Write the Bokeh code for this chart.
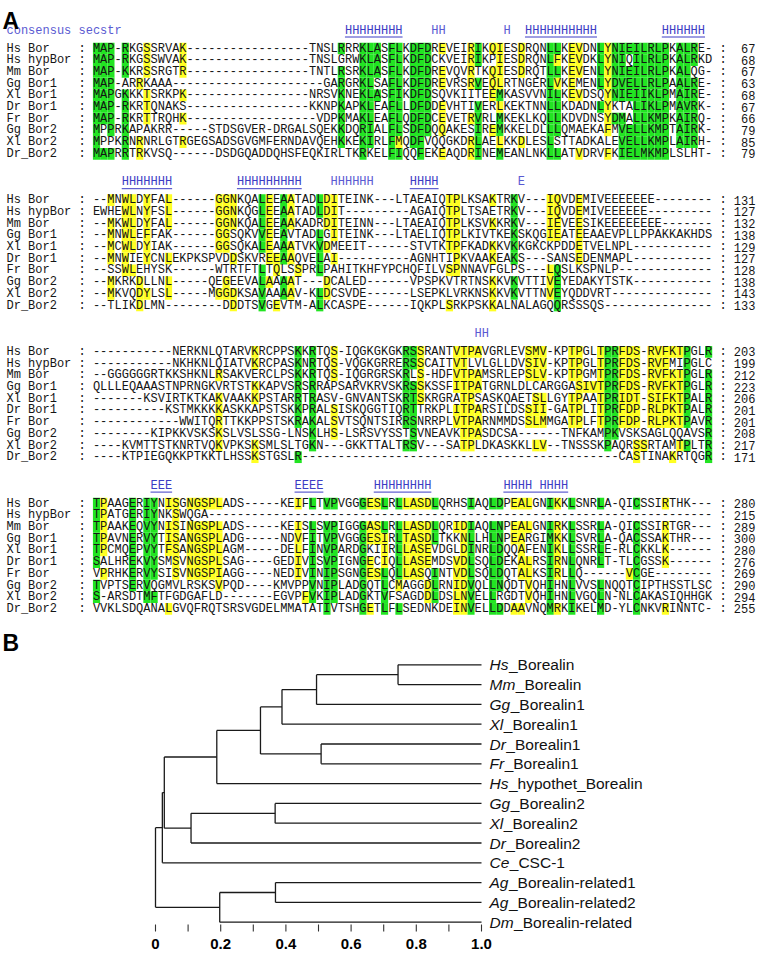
from bokeh.plotting import figure
from bokeh.models import Range1d, ColumnDataSource
from bokeh.layouts import column
from bokeh.embed import file_html
from bokeh.resources import INLINE
from bokeh.core.properties import value

# ---------------- Panel A data: alignment ----------------
NAMES = ["Hs Bor", "Hs hypBor", "Mm Bor", "Gg Bor1", "Xl Bor1", "Dr Bor1",
         "Fr Bor", "Gg Bor2", "Xl Bor2", "Dr_Bor2"]

SEQ_B1 = [
    "MAP-RKGSSRVAK" + "-" * 17 + "TNSLRRRK" + "LASFLKDFDREVEIRIKQIESDRQNLLKEVDNLYNIEILRLPKALRE-",
    "MAP-RKGSSWVAK" + "-" * 17 + "TNSLGRWK" + "LASFLKDFDCKVEIRIKPIESDRQNLFKEVDKLYNIQILRLPKALRKD",
    "MAP-KKRSSRGTR" + "-" * 17 + "TNTLRSRK" + "LASFLKDFDREVQVRTKQIESDRQTLLKEVENLYNIEILRLPKALQG-",
    "MAP-ARRKAAA" + "-" * 21 + "GARGRK" + "LSAFLKDFDREVRSRVEQLRTNGERLVKEMENLYDVELLRLPAALRE-",
    "MAPGKKKTSRKPK" + "-" * 17 + "NRSVKNEK" + "LASFIKDFDSQVKIITEEMKASVVNILKEVDSQYNIEIIKLPMAIRE-",
    "MAP-RKRTQNAKS" + "-" * 17 + "KKNPKAPK" + "LEAFLLDFDDEVHTIVERLKEKTNNLLKDADNLYKTALIKLPMAVRK-",
    "MAP-RKRTTRQHK" + "-" * 18 + "VDPKMAK" + "LEAFLQDFDCEVETRVRLMKEKLKQLLKDVDNSYDMALLKMPKAIRQ-",
    "MPPRKAPAKRR" + "-" * 5 + "STDSGVER-DRGALSQEKKDQR" + "IALFLSDFDQQAKESIREMKKELDLLLQMAEKAFMVELLKMPTAIRK-",
    "MPPKRNRNRLGTRGEGSADSGVGMFERNDAVQEHKKEK" + "IRLFMQDFVQQGKDRLAELKKDLESLSTTADKALEVELLKMPLAIRH-",
    "MAPRRTRKVSQ" + "-" * 6 + "DSDGQADDQHSFEQKIRLTKR" + "KELFIQQFEKEAQDRINEMEANLNKLLATVDRVFKIELMKMPLSLHT-",
]
NUM_B1 = [67, 68, 67, 63, 68, 67, 66, 79, 85, 79]
GREEN_B1 = [
    [0, 1, 2, 4, 34, 37, 38, 39, 41, 42, 44, 45, 46, 53, 63, 64, 70, 72, 73, 74, 75, 76, 77, 78, 79, 81, 82, 83],
    [0, 1, 2, 4, 37, 38, 39, 41, 42, 44, 45, 46, 53, 63, 70, 72, 73, 75, 76, 77, 78, 79, 81, 82, 83],
    [0, 1, 2, 4, 34, 37, 38, 39, 41, 42, 44, 45, 46, 63, 64, 70, 72, 73, 74, 75, 76, 77, 78, 79, 81, 82],
    [0, 1, 2, 34, 37, 38, 41, 42, 44, 45, 46, 53, 63, 70, 72, 73, 74, 75, 76, 77, 78, 79, 81, 82, 83],
    [0, 1, 2, 4, 34, 37, 38, 39, 41, 42, 44, 45, 46, 56, 63, 64, 72, 73, 74, 75, 76, 77, 78, 79, 81, 82, 83],
    [0, 1, 2, 4, 34, 37, 38, 41, 42, 44, 45, 46, 53, 63, 64, 70, 75, 76, 77, 78, 79, 81, 82, 83],
    [0, 1, 2, 4, 34, 37, 38, 41, 42, 44, 45, 46, 53, 56, 63, 64, 72, 73, 75, 76, 77, 78, 79, 81, 82, 83],
    [0, 2, 4, 34, 37, 38, 41, 42, 44, 45, 46, 53, 56, 63, 64, 73, 74, 75, 76, 77, 78, 79, 81, 82, 83],
    [0, 4, 34, 37, 38, 41, 44, 45, 53, 63, 73, 74, 75, 76, 77, 78, 79, 81, 82, 83],
    [0, 1, 2, 4, 37, 41, 42, 45, 53, 56, 63, 64, 73, 74, 75, 76, 77, 78, 79],
]
YELLOW_B1 = [
    [7, 12, 48, 52, 55, 56, 59, 66, 67, 71],
    [7, 12, 52, 56, 59, 64, 66, 67, 71],
    [7, 12, 48, 52, 55, 56, 59, 66, 67, 71],
    [6, 48, 52, 55, 56, 64, 66, 71],
    [7, 12, 55, 66, 67, 71],
    [7, 48, 56, 71],
    [7, 12, 48, 52, 71],
    [48, 55, 71],
    [6, 12, 42, 52, 56, 59],
    [6, 48, 52, 67, 71],
]
SEC_B1 = [(35, "HHHHHHHH", True), (47, "HH", False), (57, "H", False),
          (60, "HHHHHHHHHH", True), (79, "HHHHHH", True)]

SEQ_B2 = [
    "--MNWLDYFAL" + "-" * 6 + "GGNKQALEEAATADLDITEIN" + "K---LTAEAIQTPLKSAKTRKV---IQVDEMIVEEEEEEE" + "-" * 8,
    "EWHEWLNYFSL" + "-" * 6 + "GGNKQGLEEAATADLDIT---" + "-" * 6 + "AGAIQTPLTSAETRKV---IQVDEMIVEEEEEE" + "-" * 9,
    "--MKWLDYFAL" + "-" * 6 + "GGNKQALEEAAKADRDITEIN" + "N---LTAEAIQTPLKSVKKRKV---IEVEESIKEEEEEEEE" + "-" * 7,
    "--MNWLEFFAK" + "-" * 6 + "GGSQKVVEEAVTADLGITEIN" + "K---LTAELIQTPLKIVTKEKSKQGIEATEEAAEVPLLPPAKKAKHDS",
    "--MCWLDYIAK" + "-" * 6 + "GGSQKALEAAATVKVDMEEIT" + "-" * 6 + "STVTKTPFKADKKVKKGKCKPDDETVELNPL" + "-" * 11,
    "--MNWIEYCNLEKPKSPVDDSKVREEAAQVELAI----" + "-" * 6 + "AGNHTIPKVAAKEAKS---SANSEDENMAPL" + "-" * 11,
    "--SSWLEHYSK" + "-" * 6 + "WTRTFTLTQLSSPRLPAHITK" + "HFYPCHQFILVSPNNAVFGLPS---LQSLKSPNLP" + "-" * 13,
    "--MKRKDLLNL" + "-" * 5 + "QEGEEVALAAAAT---DCALED" + "-" * 6 + "VPSPKVTRTNSKKVKVTTIVEYEDAKYTSTK" + "-" * 11,
    "--MKVQDYLSL" + "-" * 5 + "MGGDKSAVAAAAV-KLDCSVDE" + "-" * 6 + "LSEPKLVRKNSKKVKVTTNVEYQDDVRT" + "-" * 14,
    "--TLIKDLMN" + "-" * 8 + "DDDTSVGEVTM-ALKCASPE" + "-" * 6 + "IQKPLSRKPSKKALNALAGQQRSSSQS" + "-" * 15,
]
NUM_B2 = [131, 127, 132, 138, 129, 127, 128, 138, 143, 133]
GREEN_B2 = [
    [23, 26, 31, 58], [23, 26, 31, 58], [23, 26, 58], [23, 26, 31, 58], [23, 26, 31, 58],
    [26, 31, 58], [23, 31, 64], [23, 26, 58, 64], [23, 26, 31, 58, 64], [23, 31, 64],
]
YELLOW_B2 = [
    [2, 4, 5, 7, 10, 17, 18, 19, 24, 27, 32, 33, 49, 50, 55, 63, 64, 67],
    [4, 5, 7, 10, 17, 18, 19, 24, 27, 32, 33, 49, 50, 63, 64, 67],
    [2, 4, 5, 7, 10, 17, 18, 19, 24, 27, 32, 33, 49, 50, 55, 63, 64, 67],
    [2, 4, 5, 7, 17, 18, 24, 33, 49, 50, 63, 64, 67],
    [2, 4, 5, 7, 17, 18, 24, 27, 32, 49, 50, 55, 67],
    [2, 4, 7, 10, 19, 24, 25, 27, 33, 50, 55, 67],
    [4, 5, 25, 28, 49, 50, 63],
    [2, 6, 10, 18, 24, 27, 32, 55, 63],
    [2, 6, 7, 10, 17, 18, 19, 27, 32, 55, 63],
    [6, 19, 25, 49, 55],
]
SEC_B2 = [(4, "HHHHHHH", True), (20, "HHHHHHHHH", True), (33, "HHHHHH", False),
          (44, "HHHH", True), (59, "E", False)]

SEQ_B3 = [
    "-" * 11 + "NERKNLQTARVKRCPPSKKRTQS-IQG" + "KGKGKRSSRANTVTPAVGRLEVSMV-KPTPGLTPRFDS-RVFKTPGLR",
    "-" * 11 + "NKHKNLQIATVKRCPASKNRTQS-VQG" + "KGRRERSSCAITVTLVLGLLDVSIV-KPTPGLTPRFDS-RVFMIPGLC",
    "--GGGGGGRTKKSHKNLRSAKVERCLPSKKRTQS-IQG" + "RGRSKRLS-HDFVTPAMSRLEPSLV-KPTPGMTPRFDS-RVFKTPGLR",
    "QLLLEQAAASTNPRNGKVRTSTKKAPVSRSRRAPSARV" + "KRVSKRSSKSSFITPATGRNLDLCARGGASIVTPRFDS-RVFKTPGLR",
    "-" * 7 + "KSVIRTKTKAKVAAKKPSTARRTRASV-GNV" + "ANTSKRTSKRGRATPSASKQAETSLLGYTPAATPRIDT-SIFKTPALR",
    "-" * 10 + "KSTMKKKKASKKAPSTSKKPRALSISKQ" + "GGTIQRTTRKPLITPARSILDSSII-GATPLITPRFDP-RLPKTPALR",
    "-" * 12 + "WWITQRTTKKPPSTSKRAKALSVTSQ" + "NTSIRRSNRRPLVTPARNMMDSSLMMGATPLFTPRFDP-RLPKTPAVR",
    "-" * 8 + "KIPKKVSKSKSLVSLSSG-LNSKLHS-LSR" + "SVYSSTSVNEAVKTPASDCSA------TNFKAMPKVSKSAGLQQAVSR",
    "----KVMTTSTKNRTVQKVPKSKSMLSLTGKN---GKK" + "TTALTRSV---SATPLDKASKKLLV--TNSSSKPAQRSSRTAMTPLTR",
    "----KTPIEGQKKPTKKTLHSSKSTGSLR" + "-" * 9 + "-" * 35 + "CASTINAKRTQGR",
]
NUM_B3 = [203, 199, 212, 223, 206, 201, 201, 208, 217, 171]
GREEN_B3 = [
    [28, 30, 43, 44, 71, 72, 82, 85], [28, 30, 43, 44, 71, 72, 82], [28, 30, 43, 71, 72, 82, 85],
    [28, 30, 43, 44, 71, 72, 82, 85], [28, 30, 43, 44, 71, 72, 82, 85], [28, 30, 43, 44, 71, 72, 82, 85],
    [28, 30, 43, 44, 71, 72, 82, 85], [30, 44, 71, 72, 85], [30, 43, 44, 71, 82, 85], [28, 85],
]
YELLOW_B3 = [
    [22, 33, 45, 50, 51, 52, 53, 60, 61, 62, 66, 67, 70, 73, 74, 75, 77, 78, 79, 80, 81],
    [22, 33, 45, 50, 51, 60, 61, 62, 66, 67, 70, 73, 74, 75, 77, 78, 79],
    [17, 33, 45, 50, 51, 52, 53, 60, 61, 62, 66, 67, 70, 73, 74, 75, 77, 78, 79, 80, 81],
    [22, 45, 50, 51, 52, 53, 67, 68, 69, 70, 73, 74, 75, 77, 78, 79, 80, 81],
    [17, 22, 45, 51, 52, 61, 62, 66, 67, 70, 73, 74, 75, 77, 78, 79, 80, 81],
    [17, 33, 50, 51, 52, 53, 60, 61, 62, 66, 67, 70, 73, 74, 75, 77, 78, 79, 80, 81],
    [17, 33, 50, 51, 52, 53, 60, 61, 62, 66, 67, 70, 73, 74, 75, 77, 78, 79, 80, 81],
    [17, 33, 51, 52, 53],
    [17, 22, 51, 52, 61, 62, 75, 76, 81],
    [22, 75, 80],
]
SEC_B3 = [(53, "HH", False)]

SEQ_B4 = [
    "TPAAGERIYNISGNGSPLADS-----KEIFLTVPVGGG" + "ESLRLLASDLQRHSIAQLDPEALGNIKKLSNRLA-QICSSIRTHK---",
    "TPATGERIYNKSWQGA" + "-" * 70,
    "TPAAKEQVYNISINGSPLADS-----KEISLSVPIGGG" + "ASLRLLASDLQRIDIAQLNPEALGNIRKLSSRLA-QICSSIRTGR---",
    "TPAVNERVYTISANGSPLADG-----NDVFITVPVGGG" + "ESIRLTASDLTKKNLLHLNPEARGIMKKLSVRLA-QACSSAKTHR---",
    "TPCMQEPVYTFSANGSPLAGM-----DELFINVPARDG" + "KIIRLLASEVDGLDINRLDQQAFENIKLLSSRLE-RLCKKLK------",
    "SALHREKVYSMSVNGSPLSAG----GEDIVISVPIGNG" + "ECIQLLASEMDSVDLSQLDEKALRSIRNLQNRLT-TLCGSSK------",
    "VPRHKERVYSISVNGSPIAGG----NEDIVINIPSGNG" + "ESLQLLASQINTVDLSQLDQTALKSIRLLQ------VCGE--------",
    "TVPTSERVQGMVLRSKSVPQD----KMVPPVNIPLADG" + "QTLCMAGGDLRNIDVQLLNQDTVQHIHNLVVSLNQQTCIPTHSSTLSC",
    "S-ARSDTMFTFGDGAFLD-------EGVPFVKIPLADG" + "KTVFSAGDDLDSLNVELLRGDTVQHIHNLVGQLN-NLCAKASIQHHGK",
    "VVKLSDQANALGVQFRQTSRSVGDELMMATATIVTSHG" + "ETLFLSEDNKDEINVELLDDAAVNQMRKIKELMD-YLCNKVRINNTC-",
]
NUM_B4 = [280, 215, 289, 300, 280, 276, 269, 290, 294, 255]
GREEN_B4 = [
    [0, 5, 7, 8, 30, 32, 33, 37, 40, 42, 47, 52, 55, 56, 63, 66, 70, 75],
    [0, 5, 7, 8],
    [0, 5, 7, 8, 30, 32, 33, 37, 40, 42, 47, 52, 55, 56, 63, 66, 70, 75],
    [0, 5, 7, 8, 30, 32, 33, 37, 42, 47, 52, 55, 56, 63, 66, 70, 75],
    [0, 5, 7, 8, 30, 32, 33, 37, 42, 52, 55, 56, 63, 66, 70, 75],
    [0, 5, 7, 8, 30, 32, 33, 37, 42, 52, 55, 56, 63, 66, 70, 75],
    [5, 7, 8, 30, 32, 33, 37, 40, 42, 47, 52, 55, 56, 63, 66, 75],
    [0, 5, 7, 30, 32, 33, 37, 40, 47, 52, 55, 56, 63, 66, 70, 75],
    [0, 7, 8, 30, 32, 33, 37, 40, 47, 52, 55, 63, 66, 70, 75],
    [32, 37, 40, 42, 52, 55, 56, 63, 66, 70, 75],
]
YELLOW_B4 = [
    [1, 10, 11, 13, 14, 15, 16, 17, 28, 38, 39, 43, 44, 45, 46, 58, 59, 60, 64, 79],
    [1, 11],
    [1, 10, 11, 13, 14, 15, 16, 17, 28, 38, 39, 43, 44, 45, 46, 50, 51, 58, 59, 60, 64, 79],
    [1, 10, 11, 13, 14, 15, 16, 17, 28, 38, 39, 40, 43, 44, 45, 46, 51, 58, 59, 64, 79],
    [1, 10, 11, 13, 14, 15, 16, 17, 28, 40, 43, 44, 45, 46, 51, 59, 64, 79],
    [11, 13, 14, 15, 16, 17, 28, 38, 40, 43, 44, 45, 46, 50, 51, 59, 60, 64, 79],
    [1, 11, 13, 14, 15, 16, 17, 28, 38, 39, 43, 44, 45, 50, 51, 59, 60, 64, 74],
    [17, 42, 46, 50, 51, 60],
    [29, 46, 50, 51, 60],
    [10, 38, 50, 51, 58, 59, 64, 79],
]
SEC_B4 = [(8, "EEE", True), (28, "EEEE", True), (39, "HHHHHHHH", True), (57, "HHHH HHHH", True)]

BLOCKS = [
    (SEQ_B1, NUM_B1, GREEN_B1, YELLOW_B1, SEC_B1),
    (SEQ_B2, NUM_B2, GREEN_B2, YELLOW_B2, SEC_B2),
    (SEQ_B3, NUM_B3, GREEN_B3, YELLOW_B3, SEC_B3),
    (SEQ_B4, NUM_B4, GREEN_B4, YELLOW_B4, SEC_B4),
]

# ---------------- Panel B data: dendrogram ----------------
LEAF_SPECIES = ["Hs", "Mm", "Gg", "Xl", "Dr", "Fr", "Hs", "Gg", "Xl", "Dr", "Ce", "Ag", "Ag", "Dm"]
LEAF_NAMES = ["_Borealin", "_Borealin", "_Borealin1", "_Borealin1", "_Borealin1", "_Borealin1",
              "_hypothet_Borealin", "_Borealin2", "_Borealin2", "_Borealin2", "_CSC-1",
              "_Borealin-related1", "_Borealin-related2", "_Borealin-related"]
# (height, children); ints are leaf indices
TREE = (0.0, [
    (0.021, [
        (0.027, [
            (0.188, [
                (0.322, [
                    (0.388, [
                        (0.494, [(0.744, [0, 1]), 2]),
                        3]),
                    (0.508, [4, 5])]),
                6]),
            (0.109, [(0.367, [7, 8]), 9])]),
        10]),
    (0.197, [(0.368, [11, 12]), 13])])
TICKS_MAJOR = [0, 0.2, 0.4, 0.6, 0.8, 1.0]
TICK_LABELS = ["0", "0.2", "0.4", "0.6", "0.8", "1.0"]
TICKS_MINOR = [0.1, 0.3, 0.5, 0.7, 0.9]

# ---------------- styling / layout ----------------
GREEN = "#22e422"
YELLOW = "#ffff22"
BLUE_U = "#3c3cc4"
BLUE_P = "#5a5ad2"
MONO = "Liberation Mono"
SANS = "Liberation Sans"

W = 763
FS = 12.0
CW = 0.6001 * FS
X0 = 6.0
HA = 625
ROW_PITCH = 11.7
BLOCK_PITCH = 151.7
FIRST_ROW = 48.0
HDR_GAP = 18.0
SEQ_COL = 12

pA = figure(width=W, height=HA, x_range=Range1d(-X0 / CW, (W - X0) / CW),
            y_range=Range1d(HA, 0), x_axis_type=None, y_axis_type=None,
            output_backend="svg", toolbar_location=None, min_border=0,
            outline_line_color=None)
pA.grid.visible = False

hl = {k: dict(l=[], r=[], t=[], b=[]) for k in ("g", "y")}
names = dict(x=[], y=[], text=[])
seqs_src = dict(x=[], y=[], text=[])
colons = dict(x=[], y=[], text=[])
nums = dict(x=[], y=[], text=[])
secU = dict(x=[], y=[], text=[])
secP = dict(x=[], y=[], text=[])
ul = dict(x0=[], x1=[], y=[])

for b, (seqs, numl, G, Y, sec) in enumerate(BLOCKS):
    y0 = FIRST_ROW + b * BLOCK_PITCH
    L = max(len(s) for s in seqs)
    for r in range(10):
        yc = y0 + r * ROW_PITCH
        s = seqs[r]
        for kind, cols in (("g", G[r]), ("y", Y[r])):
            for c in cols:
                if c < len(s) and s[c] != "-":
                    d = hl[kind]
                    d["l"].append(SEQ_COL + c)
                    d["r"].append(SEQ_COL + c + 1)
                    d["t"].append(yc - ROW_PITCH / 2)
                    d["b"].append(yc + ROW_PITCH / 2)
        names["x"].append(0); names["y"].append(yc); names["text"].append(NAMES[r])
        seqs_src["x"].append(SEQ_COL); seqs_src["y"].append(yc); seqs_src["text"].append(s)
        for cx in (SEQ_COL - 2, SEQ_COL + L + 1):
            colons["x"].append(cx); colons["y"].append(yc); colons["text"].append(":")
        nums["x"].append(SEQ_COL + L + 6); nums["y"].append(yc); nums["text"].append(str(numl[r]))
    yh = y0 - HDR_GAP
    if b == 0:
        secP["x"].append(0); secP["y"].append(yh); secP["text"].append("consensus secstr")
    for start, txt, under in sec:
        dst = secU if under else secP
        dst["x"].append(SEQ_COL + start); dst["y"].append(yh); dst["text"].append(txt)
        if under:
            ul["x0"].append(SEQ_COL + start); ul["x1"].append(SEQ_COL + start + len(txt))
            ul["y"].append(yh + 6.5)

pA.quad(left="l", right="r", top="t", bottom="b", source=ColumnDataSource(hl["g"]),
        fill_color=GREEN, line_color=None)
pA.quad(left="l", right="r", top="t", bottom="b", source=ColumnDataSource(hl["y"]),
        fill_color=YELLOW, line_color=None)

mono_kw = dict(text_font=value(MONO), text_font_size=f"{FS}px", text_baseline="middle",
               text_color="#151515")
pA.text(x="x", y="y", text="text", source=ColumnDataSource(names), text_align="left", **mono_kw)
pA.text(x="x", y="y", text="text", source=ColumnDataSource(seqs_src), text_align="left", **mono_kw)
pA.text(x="x", y="y", text="text", source=ColumnDataSource(colons), text_align="left", **mono_kw)
pA.text(x="x", y="y", text="text", source=ColumnDataSource(nums), text_align="right", **mono_kw)
pA.text(x="x", y="y", text="text", source=ColumnDataSource(secU), text_align="left",
        text_font=value(MONO), text_font_size=f"{FS}px", text_baseline="middle", text_color=BLUE_U)
pA.text(x="x", y="y", text="text", source=ColumnDataSource(secP), text_align="left",
        text_font=value(MONO), text_font_size=f"{FS}px", text_baseline="middle", text_color=BLUE_P)
pA.segment(x0="x0", y0="y", x1="x1", y1="y", source=ColumnDataSource(ul),
           line_color=BLUE_U, line_width=1)
pA.text(x=[(2.0 - X0) / CW], y=[20.5], text=["A"], text_font=value(SANS), text_font_style="bold",
        text_font_size="23px", text_baseline="alphabetic", text_align="left", text_color="black")

# ---------------- Panel B ----------------
HB = 960 - HA
XT0, XT1 = 155.0, 481.0          # pixel positions of distance 0 and 1
SC = XT1 - XT0
LEAF_Y0, LEAF_DY = 664.3 - HA, 19.8   # first leaf row (px from panel top) and spacing
y_top = -LEAF_Y0 / LEAF_DY
y_bot = y_top + HB / LEAF_DY


def py(page_y):
    return (page_y - HA - LEAF_Y0) / LEAF_DY


pB = figure(width=W, height=HB, x_range=Range1d(-XT0 / SC, (W - XT0) / SC),
            y_range=Range1d(y_bot, y_top), x_axis_type=None, y_axis_type=None,
            output_backend="svg", toolbar_location=None, min_border=0,
            outline_line_color=None)
pB.grid.visible = False

segs = dict(x0=[], y0=[], x1=[], y1=[])


def walk(node):
    if isinstance(node, int):
        return 1.0, float(node)
    h, kids = node
    pos = [walk(k) for k in kids]
    ys = [p[1] for p in pos]
    for kx, ky in pos:
        segs["x0"].append(h); segs["y0"].append(ky); segs["x1"].append(kx); segs["y1"].append(ky)
    segs["x0"].append(h); segs["y0"].append(min(ys)); segs["x1"].append(h); segs["y1"].append(max(ys))
    return h, sum(ys) / len(ys)


walk(TREE)
pB.segment(x0="x0", y0="y0", x1="x1", y1="y1", source=ColumnDataSource(segs),
           line_color="#1a1a1a", line_width=1.3)

AW = {"H": .722, "s": .5, "M": .833, "m": .833, "G": .778, "g": .556, "X": .667, "l": .222,
      "D": .722, "r": .333, "F": .611, "C": .722, "e": .556, "A": .667}
LFS = 15.5
lab_x = 1.0 + 8.0 / SC
offs = [sum(AW[ch] for ch in sp) * LFS + 0.5 for sp in LEAF_SPECIES]
leaf_y = list(range(len(LEAF_SPECIES)))
pB.text(x=[lab_x] * len(leaf_y), y=leaf_y, text=LEAF_SPECIES, text_font=value(SANS),
        text_font_style="italic", text_font_size=f"{LFS}px", text_baseline="middle",
        text_align="left", text_color="#111111")
pB.text(x=[lab_x] * len(leaf_y), y=leaf_y, text=LEAF_NAMES, x_offset=offs, text_font=value(SANS),
        text_font_size=f"{LFS}px", text_baseline="middle", text_align="left", text_color="#111111")
pB.text(x=[(2.0 - XT0) / SC], y=[py(642)], text=["B"], text_font=value(SANS),
        text_font_style="bold", text_font_size="23px", text_baseline="middle", text_align="left",
        text_color="black")

# distance axis: tick marks and labels
ticks_all = TICKS_MAJOR + TICKS_MINOR
pB.segment(x0=ticks_all, y0=[py(924)] * len(ticks_all), x1=ticks_all, y1=[py(931)] * len(ticks_all),
           line_color="#333333", line_width=1.1)
pB.text(x=TICKS_MAJOR, y=[py(943)] * len(TICKS_MAJOR), text=TICK_LABELS, text_font=value(SANS),
        text_font_style="bold", text_font_size="15px", text_baseline="middle", text_align="center",
        text_color="black")

layout = column(pA, pB)
open("out.html", "w").write(file_html(layout, INLINE))
